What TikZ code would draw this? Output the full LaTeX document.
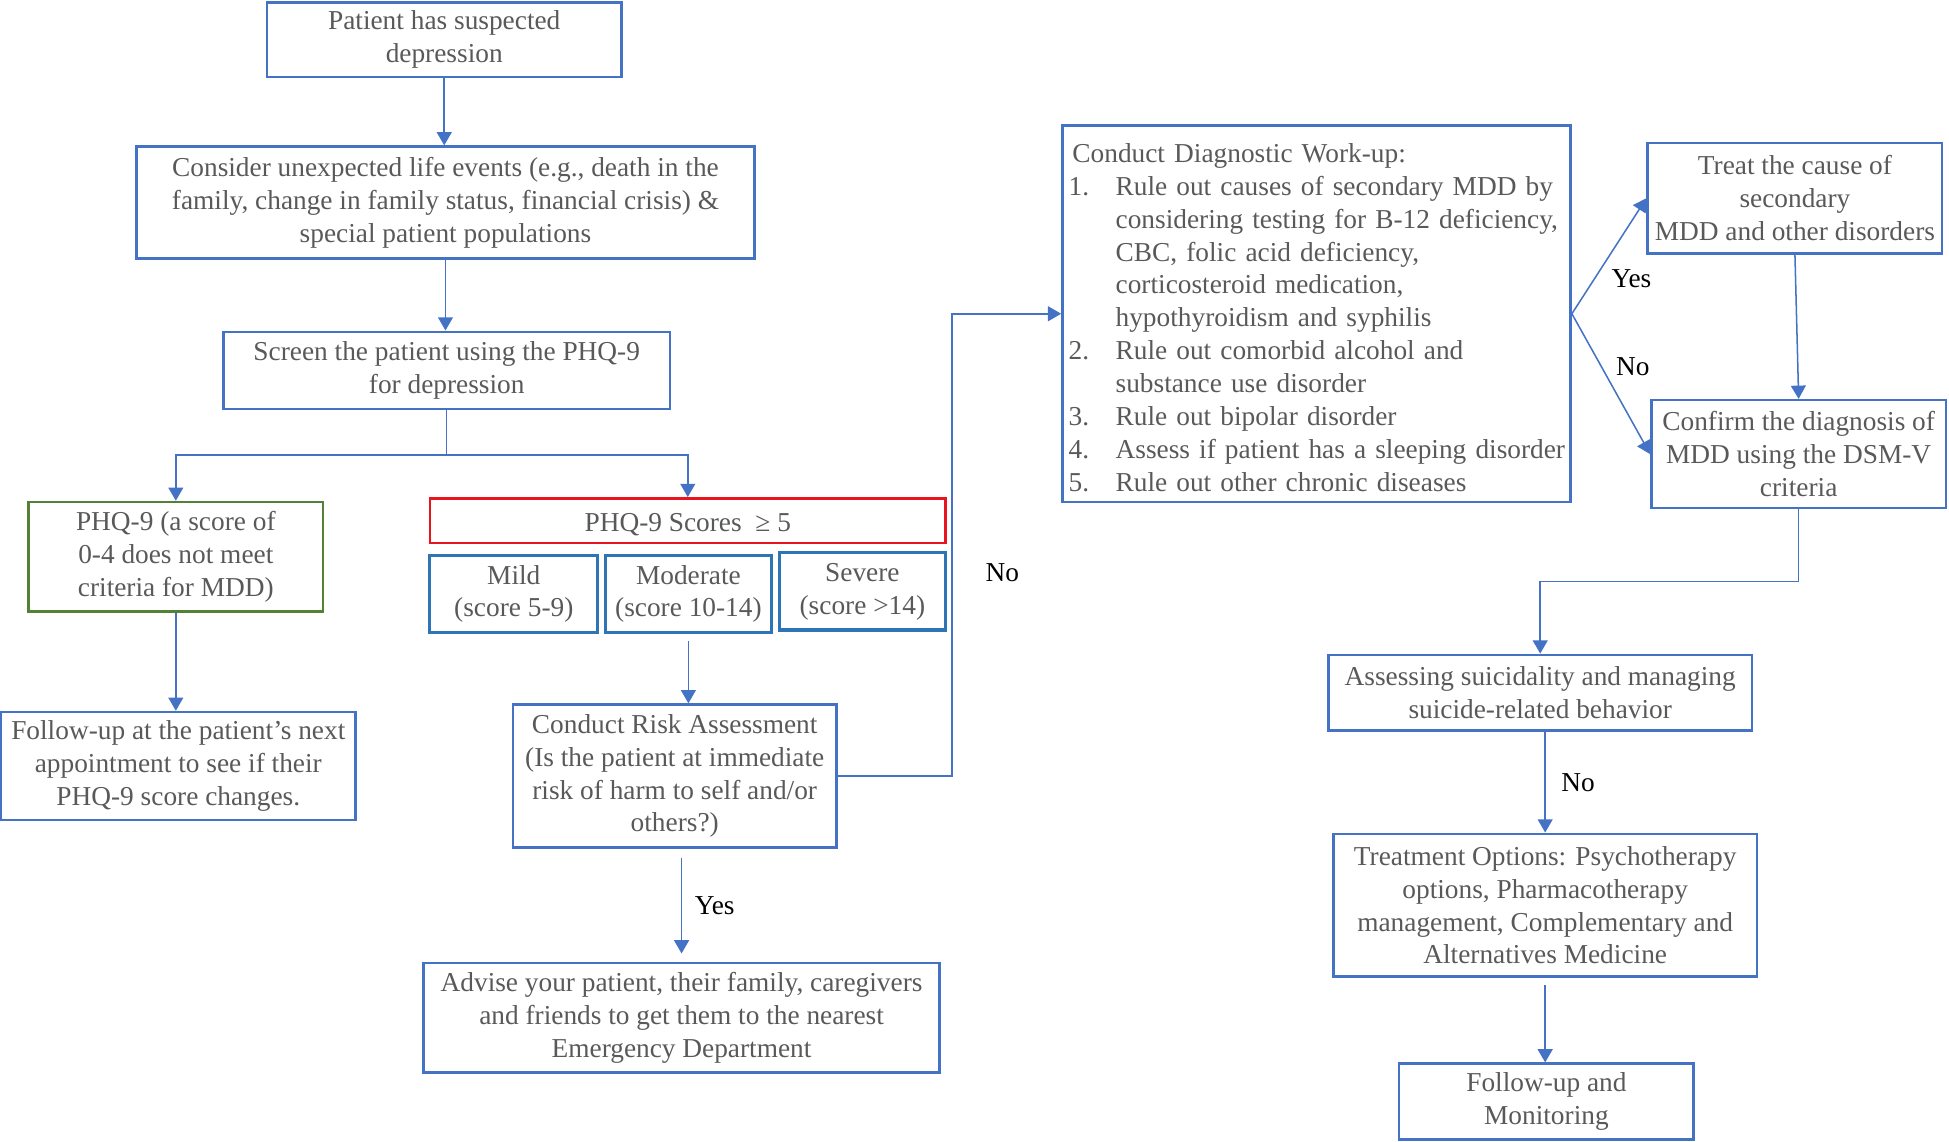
\documentclass[tikz,border=0pt]{standalone}
\usepackage{fontspec}
\setmainfont{Liberation Serif}
\usepackage{tikz}
\usetikzlibrary{arrows.meta, positioning}

\definecolor{boxblue}{HTML}{4472C4}
\definecolor{midblue}{HTML}{2E75B6}
\definecolor{boxgreen}{HTML}{538135}
\definecolor{boxred}{HTML}{E8141E}
\definecolor{txtgray}{HTML}{595959}
\newcommand{\wkitem}[1]{\makebox[17pt][l]{#1}}
\newcommand{\wkind}{\hspace*{17pt}}

\begin{document}
\begin{tikzpicture}[x=0.45pt, y=-0.45pt,
box/.style={draw=boxblue, line width=0.9pt, text=txtgray, align=center, inner sep=0pt, font=\fontsize{9.9pt}{11.9pt}\selectfont, execute at begin node={\rule{0pt}{9.6pt}}},
sbox/.style={box, draw=midblue, line width=1.1pt},
wh/.style 2 args={minimum width=#1*0.45pt, minimum height=#2*0.45pt},
arr/.style={draw=boxblue, line width=0.55pt, -{Triangle[length=4.8pt,width=5.4pt]}},
lbl/.style={font=\fontsize{9.9pt}{11.9pt}\selectfont, inner sep=1pt}
]
\useasboundingbox (0,0) rectangle (1568.5,919);
% left column
\node[box, wh={285}{60}] (susp) at (357.5,32) {Patient has suspected\\depression};
\node[box, wh={497}{90}] (life) at (358.5,163) {Consider unexpected life events (e.g., death in the\\family, change in family status, financial crisis) \&\\special patient populations};
\node[box, wh={359}{62}] (screen) at (359.5,298) {Screen the patient using the PHQ-9\\for depression};
\node[box, draw=boxgreen, wh={237}{88}] (nomdd) at (141.5,448) {PHQ-9 (a score of\\0-4 does not meet\\criteria for MDD)};
\node[box, draw=boxred, wh={415}{36}] (score) at (553.5,419) {PHQ-9 Scores\ \ ≥ 5};
\node[sbox, wh={135}{62}] (mild) at (413.5,478) {Mild\\(score 5-9)};
\node[sbox, wh={134}{62}] (moderate) at (554,478) {Moderate\\(score 10-14)};
\node[sbox, wh={134}{62}] (severe) at (694,476) {Severe\\(score >14)};
\node[box, wh={285}{87}] (followup) at (143.5,616.5) {Follow-up at the patient’s next\\appointment to see if their\\PHQ-9 score changes.};
\node[box, wh={260}{115}] (risk) at (543,624.5) {Conduct Risk Assessment\\(Is the patient at immediate\\risk of harm to self and/or\\others?)};
\node[box, wh={415}{88}] (advise) at (548.5,819) {Advise your patient, their family, caregivers\\and friends to get them to the nearest\\Emergency Department};
% right part
\node[box, wh={409}{303}, align=left, inner xsep=2.25pt, text width=179.5pt] (workup) at (1059.5,252.5) {\hspace*{1.35pt}Conduct Diagnostic Work-up:\\
\mbox{\wkitem{1.}Rule out causes of secondary MDD by}\\
\mbox{\wkind considering testing for B-12 deficiency,}\\
\wkind CBC, folic acid deficiency,\\
\wkind corticosteroid medication,\\
\wkind hypothyroidism and syphilis\\
\wkitem{2.}Rule out comorbid alcohol and\\
\wkind substance use disorder\\
\wkitem{3.}Rule out bipolar disorder\\
\mbox{\wkitem{4.}Assess if patient has a sleeping disorder}\\
\wkitem{5.}Rule out other chronic diseases};
\node[box, wh={237}{89}] (treat) at (1444.5,159.5) {Treat the cause of\\secondary\\MDD and other disorders};
\node[box, wh={237}{87}] (confirm) at (1447.5,365.5) {Confirm the diagnosis of\\MDD using the DSM-V\\criteria};
\node[box, wh={341}{61}] (suicide) at (1239.5,557.5) {Assessing suicidality and managing\\suicide-related behavior};
\node[box, wh={341}{115}] (options) at (1243.5,728.5) {Treatment Options: Psychotherapy\\options, Pharmacotherapy\\management, Complementary and\\Alternatives Medicine};
\node[box, wh={237}{61}] (monitor) at (1244.5,886.5) {Follow-up and\\Monitoring};

\draw[arr] (susp.south) -- (susp.south |- life.north);
\draw[arr] (life.south) -- (life.south |- screen.north);
\draw[arr] (screen.south) -- ++(0,36) coordinate (split) -| (nomdd.north);
\draw[arr] (split) -| (score.north);
\draw[arr] (nomdd.south) -- (nomdd.south |- followup.north);
\draw[arr, shorten <=2.5pt] (moderate.south) -- (moderate.south |- risk.north);
\draw[arr, shorten <=3.5pt, shorten >=3pt] (advise.north |- risk.south) -- node[lbl, right=3.5pt]{Yes} (advise.north);
\draw[arr] (risk.east) -- ++(92,0) |- node[lbl, pos=0.22, right=11pt]{No} (workup.west);
\draw[arr] (workup.east) -- node[lbl, pos=0.3, right=5pt]{Yes} (treat.west);
\draw[arr] (workup.east) -- node[lbl, pos=0.38, right=4pt]{No} (confirm.west);
\draw[arr] (treat.south) -- (confirm.north);
\draw[arr] (confirm.south) -- ++(0,58) -| (suicide.north);
\draw[arr] (options.north |- suicide.south) -- node[lbl, right=4.6pt]{No} (options.north);
\draw[arr, shorten <=2.7pt] (options.south) -- (options.south |- monitor.north);
\end{tikzpicture}
\end{document}
